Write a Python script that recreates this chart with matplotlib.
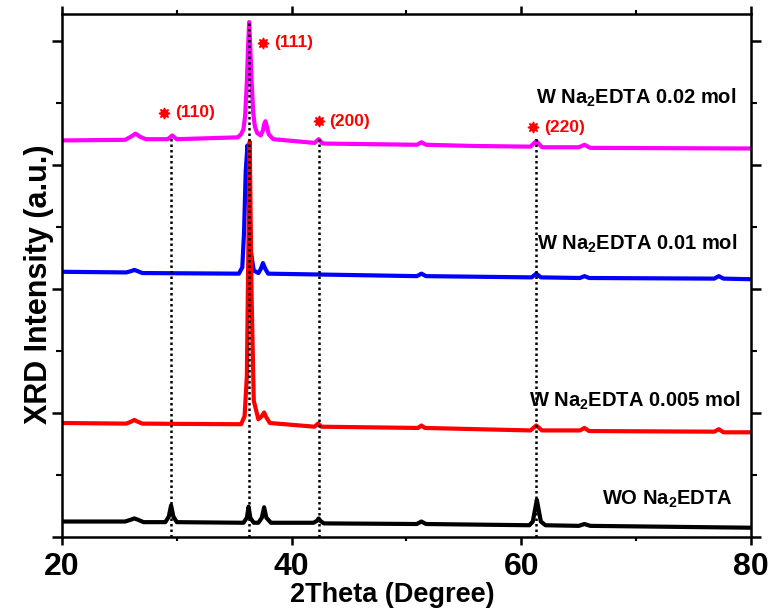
import matplotlib
matplotlib.use("Agg")
import matplotlib.pyplot as plt
from matplotlib.ticker import MultipleLocator

plt.rcParams['font.family'] = ['Liberation Sans', 'DejaVu Sans']
plt.rcParams['font.weight'] = 'bold'
plt.rcParams['mathtext.fontset'] = 'custom'
plt.rcParams['mathtext.rm'] = 'Liberation Sans:bold'
plt.rcParams['mathtext.default'] = 'rm'

# XRD patterns (2theta in degrees, intensity in offset a.u.)
tt_black = [20.0, 25.5, 26.0, 26.3, 26.6, 27.1, 29.0, 29.3, 29.5, 29.7, 30.0,
            35.8, 36.1, 36.25, 36.4, 36.7, 37.1, 37.4, 37.6, 37.8, 38.2,
            41.9, 42.2, 42.35, 42.5, 42.8, 50.9, 51.3, 51.7,
            60.7, 61.0, 61.2, 61.35, 61.5, 61.7, 62.1, 65.0, 65.5, 66.0, 80.0]
I_black = [0.25, 0.25, 0.28, 0.30, 0.28, 0.24, 0.24, 0.33, 0.51, 0.33, 0.24,
           0.23, 0.31, 0.49, 0.31, 0.23, 0.23, 0.31, 0.48, 0.31, 0.23,
           0.23, 0.26, 0.30, 0.26, 0.22, 0.21, 0.25, 0.21,
           0.19, 0.25, 0.45, 0.60, 0.45, 0.25, 0.19, 0.18, 0.21, 0.18, 0.15]

tt_red = [20.0, 25.6, 26.0, 26.3, 26.6, 27.0, 35.6, 35.9, 36.1, 36.25, 36.35, 36.5,
          36.7, 37.1, 37.4, 37.6, 37.8, 38.1, 42.0, 42.3, 42.6, 51.0, 51.3, 51.6,
          60.8, 61.3, 61.8, 65.1, 65.5, 65.9, 76.8, 77.2, 77.6, 80.0]
I_red = [1.84, 1.83, 1.86, 1.89, 1.86, 1.83, 1.82, 1.95, 2.6, 5.0, 6.38, 4.0,
         2.2, 1.90, 1.95, 2.01, 1.93, 1.84, 1.78, 1.83, 1.78, 1.76, 1.80, 1.76,
         1.72, 1.80, 1.72, 1.72, 1.76, 1.71, 1.70, 1.74, 1.69, 1.69]

tt_blue = [20.0, 25.6, 26.0, 26.3, 26.6, 27.0, 35.4, 35.7, 35.85, 36.0, 36.15,
           36.3, 36.45, 36.7, 37.1, 37.3, 37.5, 37.7, 37.95, 50.9, 51.3, 51.7,
           60.9, 61.3, 61.7, 65.1, 65.5, 65.9, 76.8, 77.2, 77.6, 80.0]
I_blue = [4.28, 4.27, 4.29, 4.31, 4.29, 4.26, 4.25, 4.35, 4.9, 5.9, 6.32,
          5.5, 4.6, 4.30, 4.26, 4.32, 4.42, 4.33, 4.25, 4.21, 4.25, 4.21,
          4.19, 4.25, 4.19, 4.18, 4.21, 4.18, 4.17, 4.21, 4.17, 4.16]

tt_mag = [20.0, 25.5, 26.0, 26.4, 26.8, 27.3, 29.2, 29.6, 30.0, 35.3, 35.6, 35.8,
          35.95, 36.1, 36.2, 36.3, 36.4, 36.5, 36.65, 36.8, 37.0, 37.3, 37.5, 37.6,
          37.72, 37.85, 38.0, 38.4, 42.0, 42.35, 42.7, 50.9, 51.3, 51.7, 56.0,
          60.8, 61.3, 61.8, 65.0, 65.5, 66.0, 80.0]
I_mag = [6.40, 6.41, 6.46, 6.51, 6.46, 6.42, 6.42, 6.48, 6.42, 6.45, 6.50, 6.58,
         6.8, 7.35, 7.9, 8.31, 7.9, 7.4, 6.85, 6.62, 6.52, 6.48, 6.56, 6.66,
         6.71, 6.62, 6.50, 6.42, 6.36, 6.42, 6.35, 6.33, 6.37, 6.33, 6.31,
         6.30, 6.39, 6.29, 6.29, 6.33, 6.28, 6.27]

# reference peak positions (dotted lines) and hkl labels
peak_pos = [29.5, 36.3, 42.35, 61.3]
peak_top = [6.45, 8.31, 6.42, 6.45]
hkl = ['(110)', '(111)', '(200)', '(220)']
hkl_star = [(28.9, 6.85), (37.5, 7.98), (42.35, 6.71), (61.05, 6.61)]

labels = ['W Na$_2$EDTA 0.02 mol', 'W Na$_2$EDTA 0.01 mol',
          'W Na$_2$EDTA 0.005 mol', 'WO Na$_2$EDTA']
label_pos = [(61.3, 7.0), (61.4, 4.63), (60.7, 2.10), (67.0, 0.52)]

fig = plt.figure(figsize=(7.72, 6.15), dpi=100)
ax = fig.add_axes([0.0803, 0.1268, 0.8925, 0.8504])

ax.plot(tt_black, I_black, color='black', lw=3)
ax.plot(tt_blue, I_blue, color='#0000ff', lw=3)
ax.plot(tt_red, I_red, color='#ff0000', lw=3)
ax.plot(tt_mag, I_mag, color='#ff00ff', lw=3)

ax.vlines(peak_pos, 0, peak_top, colors='black', linestyles=(0, (1, 1.2)), lw=1.8)

for (sx, sy), t in zip(hkl_star, hkl):
    ax.plot(sx, sy, marker=(8, 1, 0), ms=8, color='#ff0000', mec='#ff0000')
    ax.text(sx + 0.95, sy, t, color='#ff0000', fontsize=12.5, fontweight='bold',
            ha='left', va='center')

for (lx, ly), t in zip(label_pos, labels):
    ax.text(lx, ly, t, fontsize=14.5, fontweight='bold', ha='left', va='baseline')

ax.set_xlim(20, 80)
ax.set_ylim(0, 8.44)
ax.xaxis.set_major_locator(MultipleLocator(20))
ax.xaxis.set_minor_locator(MultipleLocator(10))
ax.yaxis.set_major_locator(MultipleLocator(2))
ax.yaxis.set_minor_locator(MultipleLocator(1))
ax.set_yticklabels([])

for s in ax.spines.values():
    s.set_linewidth(1.8)

ax.tick_params(axis='x', which='major', direction='out', length=6, width=1.8, pad=5,
               labelsize=23)
ax.tick_params(axis='x', which='minor', direction='out', length=3, width=1.5)
ax.tick_params(axis='y', which='major', direction='out', length=7, width=1.8)
ax.tick_params(axis='y', which='minor', direction='out', length=4, width=1.5)
ax.tick_params(which='both', top=True, right=True)

ax.set_xlabel('2Theta (Degree)', fontsize=19.5, fontweight='bold')
ax.xaxis.set_label_coords(0.480, -0.086)
ax.set_ylabel('XRD Intensity (a.u.)', fontsize=22, fontweight='bold')
ax.yaxis.set_label_coords(-0.012, 0.483)

fig.savefig('out.png', dpi=100)
